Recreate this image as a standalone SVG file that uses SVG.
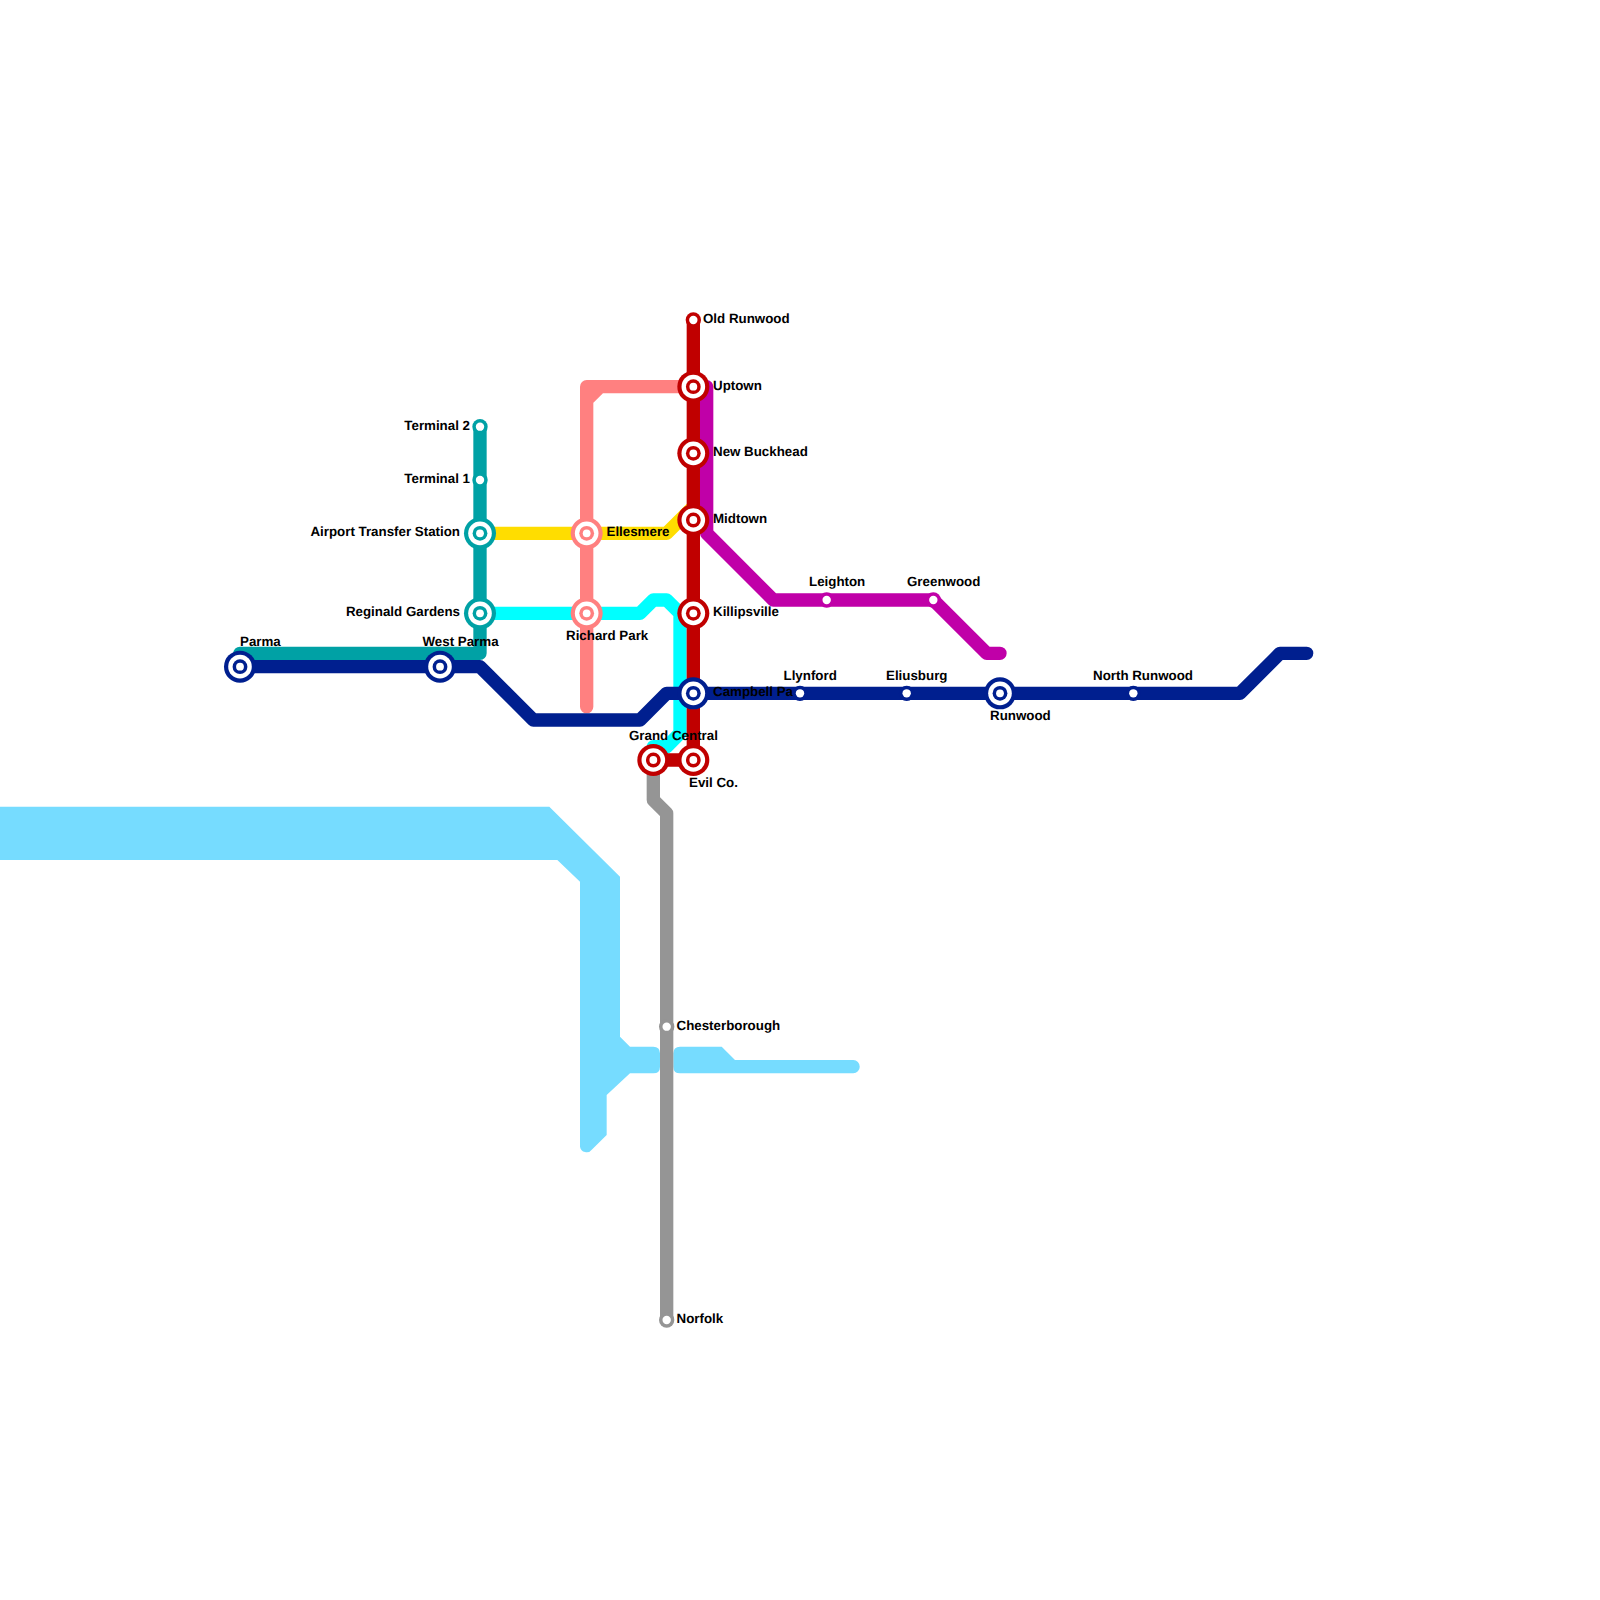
<svg xmlns="http://www.w3.org/2000/svg" width="1600" height="1600" viewBox="0 0 1600 1600">
<style>
.l{fill:none;stroke-width:13.33;stroke-linecap:round;stroke-linejoin:round}
.t{font:bold 13.33px "Liberation Sans",Arial,sans-serif;fill:#000;text-rendering:geometricPrecision}
.e{text-anchor:end}
.w{fill:#76dcff}
</style>
<defs>
<g id="s"><circle r="16" fill="currentColor"/><circle r="11.8" fill="#fff"/><circle r="7.4" fill="currentColor"/><circle r="3.9" fill="#fff"/></g>
<g id="m"><circle r="7.67" fill="currentColor"/><circle r="4.2" fill="#fff"/></g>
</defs>
<rect width="1600" height="1600" fill="#fff"/>
<g id="connectors">
<g id="water">
<path class="w" d="M0 806.67H549.33L620 876.67V1036.67L630 1046.67H653.33Q660 1046.67 660 1053.33V1066.67Q660 1073.33 653.33 1073.33H630L606.67 1095V1135L592 1149.5A6.67 6.67 0 0 1 580 1146.67V881.7L557.33 860H0Z"/>
<path class="w" d="M680 1046.67H721.7L735 1060H853.33A6.67 6.67 0 0 1 853.33 1073.33H680Q673.33 1073.33 673.33 1066.67V1053.33Q673.33 1046.67 680 1046.67Z"/>
</g>
<path class="l" stroke="#959595" d="M653.33 760V800L666.67 813.33V1320"/>
<path class="l" stroke="#ffdd00" d="M480 533.33H666.67L693.33 506.67"/>
<path class="l" stroke="#00ffff" d="M480 613.33H640L653.33 600H666.67L680 613.33V733.33L666.67 746.67H653.33"/>
<path class="l" stroke="#00a1a5" d="M480 426.67V653.33H240"/>
<path class="l" stroke="#ff8080" d="M586.67 706.67V400L600 386.67H693.33M586.67 400V386.67H600"/>
<path class="l" stroke="#c000a8" d="M706.67 386.67V533.33L773.33 600H933.33L986.67 653.33H1000"/>
<path class="l" stroke="#c00000" d="M693.33 320V760H653.33"/>
<path class="l" stroke="#001f8f" d="M240 666.67H480L533.33 720H640L666.67 693.33H1240L1280 653.33H1306.67"/>
</g>
<g id="n-old-runwood" color="#c00000"><use href="#m" x="693.33" y="320"/><text class="t" x="703" y="323">Old Runwood</text></g>
<g id="n-uptown" color="#c00000"><use href="#s" x="693.33" y="386.67"/><text class="t" x="713" y="389.5">Uptown</text></g>
<g id="n-new-buckhead" color="#c00000"><use href="#s" x="693.33" y="453.33"/><text class="t" x="713" y="456">New Buckhead</text></g>
<g id="n-midtown" color="#c00000"><use href="#s" x="693.33" y="520"/><text class="t" x="713" y="523">Midtown</text></g>
<g id="n-killipsville" color="#c00000"><use href="#s" x="693.33" y="613.33"/><text class="t" x="713" y="616">Killipsville</text></g>
<g id="n-campbell" color="#001f8f"><use href="#s" x="693.33" y="693.33"/><text class="t" x="713" y="696">Campbell Pa</text></g>
<g id="n-evil-co" color="#c00000"><use href="#s" x="693.33" y="760"/><text class="t" x="689" y="787">Evil Co.</text></g>
<g id="n-grand-central" color="#c00000"><use href="#s" x="653.33" y="760"/><text class="t" x="629" y="740">Grand Central</text></g>
<g id="n-terminal-2" color="#00a1a5"><use href="#m" x="480" y="426.67"/><text class="t e" x="470" y="430">Terminal 2</text></g>
<g id="n-terminal-1" color="#00a1a5"><use href="#m" x="480" y="480"/><text class="t e" x="470" y="483">Terminal 1</text></g>
<g id="n-airport" color="#00a1a5"><use href="#s" x="480" y="533.33"/><text class="t e" x="460" y="536">Airport Transfer Station</text></g>
<g id="n-reginald" color="#00a1a5"><use href="#s" x="480" y="613.33"/><text class="t e" x="460" y="616">Reginald Gardens</text></g>
<g id="n-ellesmere" color="#ff8080"><use href="#s" x="586.67" y="533.33"/><text class="t" x="606.5" y="536">Ellesmere</text></g>
<g id="n-richard" color="#ff8080"><use href="#s" x="586.67" y="613.33"/><text class="t" x="566" y="640">Richard Park</text></g>
<g id="n-parma" color="#001f8f"><use href="#s" x="240" y="666.67"/><text class="t" x="240" y="646">Parma</text></g>
<g id="n-west-parma" color="#001f8f"><use href="#s" x="440" y="666.67"/><text class="t" x="422.5" y="646">West Parma</text></g>
<g id="n-llynford" color="#001f8f"><use href="#m" x="800" y="693.33"/><text class="t" x="783.5" y="680">Llynford</text></g>
<g id="n-eliusburg" color="#001f8f"><use href="#m" x="906.67" y="693.33"/><text class="t" x="886" y="680">Eliusburg</text></g>
<g id="n-runwood" color="#001f8f"><use href="#s" x="1000" y="693.33"/><text class="t" x="990" y="720">Runwood</text></g>
<g id="n-north-runwood" color="#001f8f"><use href="#m" x="1133.33" y="693.33"/><text class="t" x="1093" y="680">North Runwood</text></g>
<g id="n-leighton" color="#c000a8"><use href="#m" x="826.67" y="600"/><text class="t" x="809" y="586">Leighton</text></g>
<g id="n-greenwood" color="#c000a8"><use href="#m" x="933.33" y="600"/><text class="t" x="907" y="586">Greenwood</text></g>
<g id="n-chesterborough" color="#959595"><use href="#m" x="666.67" y="1026.67"/><text class="t" x="676.5" y="1030">Chesterborough</text></g>
<g id="n-norfolk" color="#959595"><use href="#m" x="666.67" y="1320"/><text class="t" x="676.5" y="1323">Norfolk</text></g>
</svg>
